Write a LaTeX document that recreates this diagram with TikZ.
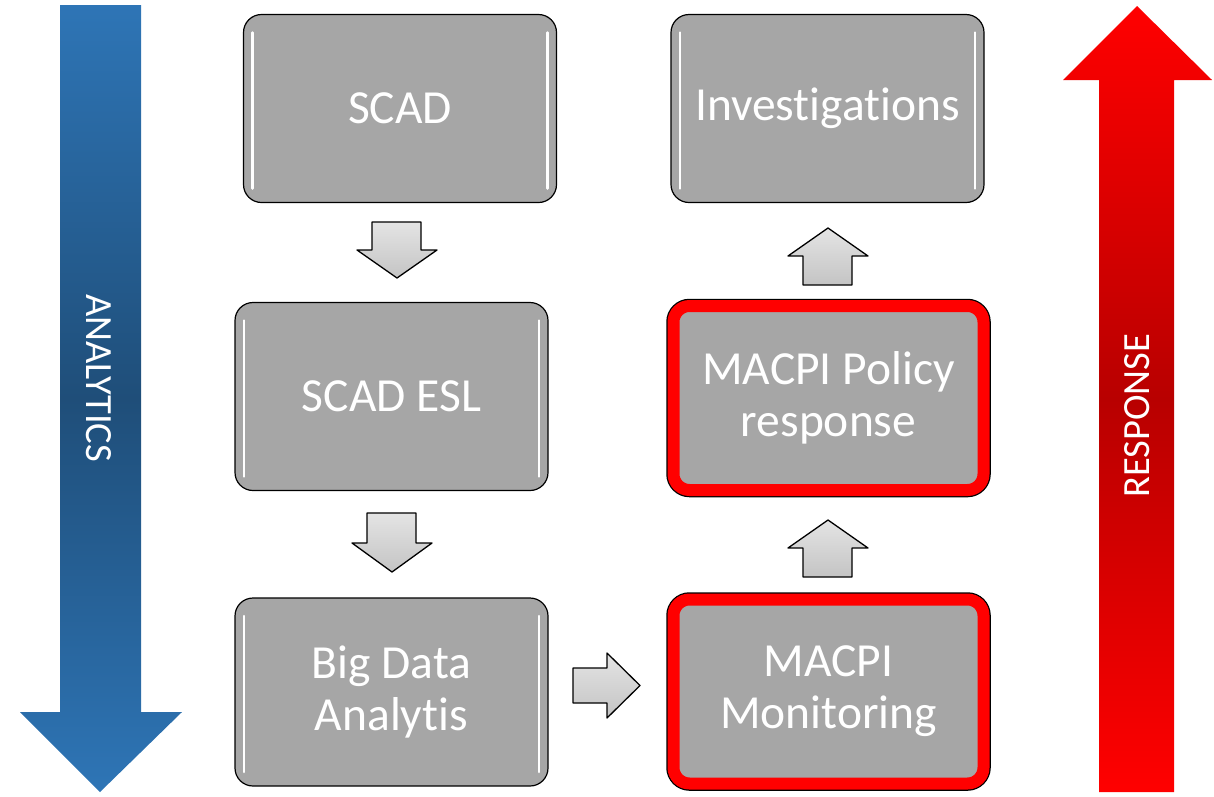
\documentclass[tikz,border=0pt]{standalone}
\usepackage{fontspec}
\setmainfont{Carlito}[RawFeature={-liga;-clig;-calt;-dlig}]
\usetikzlibrary{calc}
\definecolor{boxgray}{HTML}{A6A6A6}
\definecolor{abl}{HTML}{2E75B6}
\definecolor{abd}{HTML}{1F4E79}
\definecolor{ard}{HTML}{B80000}
\definecolor{arl}{HTML}{FF0000}
\definecolor{sagl}{HTML}{E4E4E4}
\definecolor{sagd}{HTML}{C4C4C4}
\tikzset{
  box/.style={rectangle, rounded corners=18pt, fill=boxgray, text=white,
    font=\fontsize{47.5}{52}\selectfont, align=center, inner sep=0pt},
  graybox/.style={box, draw=black, line width=1.2pt, minimum width=313pt, minimum height=188pt,
    path picture={
      \draw[white, line width=2.5pt, line cap=round]
        ([xshift=9pt,yshift=-18pt]path picture bounding box.north west) --
        ([xshift=9pt,yshift=14pt]path picture bounding box.south west);
      \draw[white, line width=2.5pt, line cap=round]
        ([xshift=-9pt,yshift=-18pt]path picture bounding box.north east) --
        ([xshift=-9pt,yshift=14pt]path picture bounding box.south east);
    }},
  redbox/.style={box, draw=red, line width=12pt, preaction={draw=black, line width=14.5pt},
    minimum width=310pt, minimum height=184pt, rounded corners=16pt},
  bigtext/.style={text=white, font=\fontsize{38.5}{42}\selectfont, inner sep=0pt},
  sarrow/.style={draw=black, line width=1.3pt, line join=round, top color=sagl, bottom color=sagd},
}
\begin{document}
\begin{tikzpicture}[x=1pt, y=-1pt]
\useasboundingbox (0,0) rectangle (1214,796);

% big blue arrow
\shade[top color=abl, bottom color=abl, middle color=abd]
  (60,5) -- (141,5) -- (141,712) -- (182,712) -- (100,792) -- (20,712) -- (60,712) -- cycle;
\node[bigtext, rotate=-90] (analytics) at (99,378) {ANALYTICS};

% big red arrow
\shade[top color=arl, bottom color=arl, middle color=ard]
  (1099,792) -- (1099,80) -- (1063,80) -- (1137,6) -- (1212,80) -- (1174,80) -- (1174,792) -- cycle;
\node[bigtext, rotate=90] (response) at (1137.5,416) {RESPONSE};

% boxes
\node[graybox] (scad) at (400,108.5) {SCAD};
\node[graybox] (esl) at (391.5,396.5) {SCAD ESL};
\node[graybox] (bigd) at (391.5,692) {Big Data\\Analytis};
\node[graybox] (inv) at (827.5,108.5) {Investigations};
\node[redbox] (pol) at (828.5,398) {MACPI Policy\\response};
\node[redbox] (mon) at (828.5,691.5) {MACPI\\Monitoring};

% small block arrows
\draw[sarrow] (372,222) -- (421,222) -- (421,250) -- (437,250) -- (397,278) -- (357,250) -- (372,250) -- cycle;
\draw[sarrow] (367,513) -- (416,513) -- (416,543) -- (432,543) -- (392,572) -- (352,543) -- (367,543) -- cycle;
\draw[sarrow] (573,668) -- (607,668) -- (607,653) -- (640,685.5) -- (607,718) -- (607,703) -- (573,703) -- cycle;
\draw[sarrow] (803,285) -- (803,256) -- (788,256) -- (828,228) -- (868,256) -- (852,256) -- (852,285) -- cycle;
\draw[sarrow] (803,577) -- (803,548) -- (788,548) -- (828,520) -- (868,548) -- (852,548) -- (852,577) -- cycle;
\end{tikzpicture}
\end{document}
